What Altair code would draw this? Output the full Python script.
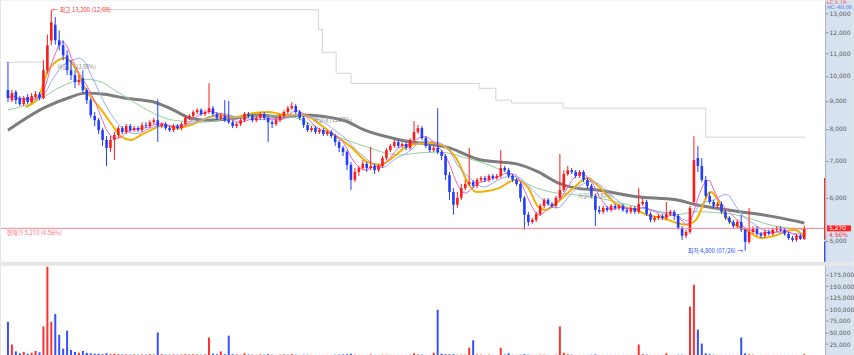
import altair as alt
import pandas as pd

# ---------------- data ----------------
opens = [9420, 9030, 9340, 9110, 8880, 9150, 8960, 9150, 9260, 9110,
         10240, 11600, 12400, 11610, 11370, 10900, 10240, 10030, 9740, 9900,
         9420, 9030, 8450, 8300, 7960, 7640, 7390, 7640, 7800, 8030,
         7900, 8100, 7960, 8030, 7960, 8130, 8100, 8230, 8300, 8100,
         8170, 8030, 7960, 8100, 8030, 8170, 8380, 8450, 8590, 8660,
         8520, 8590, 8730, 8520, 8380, 8450, 8300, 8230, 8100, 8170,
         8300, 8520, 8450, 8300, 8380, 8520, 8380, 8230, 8170, 8300,
         8450, 8590, 8730, 8810, 8590, 8380, 8130, 7960, 8030, 7900,
         7960, 7830, 7900, 7770, 7570, 7390, 7260, 6880, 6460, 6680,
         6790, 6910, 6790, 6850, 6730, 6850, 7080, 7320, 7450, 7570,
         7450, 7510, 7390, 7640, 7900, 8030, 7700, 7450, 7320, 7390,
         7260, 7140, 6590, 6140, 5820, 5990, 6240, 6350, 6400, 6300,
         6460, 6510, 6460, 6570, 6510, 6570, 6790, 6730, 6570, 6460,
         6350, 5990, 5580, 5410, 5460, 5600, 5790, 5940, 5840, 5790,
         5990, 6190, 6620, 6730, 6680, 6570, 6680, 6460, 6300, 6040,
         5690, 5650, 5740, 5690, 5790, 5740, 5790, 5690, 5650, 5740,
         5650, 5840, 5890, 5600, 5460, 5510, 5550, 5510, 5600, 5650,
         5550, 5280, 5110, 5190, 5890, 7080, 6850, 6460, 6040, 5890,
         5790, 5840, 5650, 5510, 5410, 5320, 5410, 5240, 4980, 5190,
         5280, 5150, 5110, 5190, 5150, 5240, 5280, 5240, 5150, 5060,
         5020, 5110, 5040]
highs = [10600, 9420, 9420, 9190, 9190, 9260, 9300, 9380, 9340, 10680,
         11900, 13200, 12800, 12100, 11610, 11130, 10680, 10240, 10030, 10240,
         9500, 9110, 8590, 8380, 8030, 7770, 7770, 7900, 8100, 8100,
         8170, 8170, 8100, 8100, 8230, 8230, 8300, 8380, 9060, 8230,
         8230, 8100, 8170, 8170, 8230, 8450, 8520, 8660, 8730, 8730,
         8660, 9700, 8810, 8590, 8520, 9030, 9000, 8300, 8230, 8380,
         8590, 8590, 8520, 8450, 8590, 8590, 8450, 8300, 8380, 8520,
         8660, 8810, 8960, 8880, 8660, 8450, 8230, 8100, 8100, 8030,
         8030, 7960, 7960, 7830, 7640, 7450, 7320, 6960, 6790, 6850,
         7020, 6960, 7420, 6910, 6910, 7140, 7390, 7510, 7640, 7640,
         7570, 7570, 7700, 8270, 8130, 8100, 7770, 7510, 7450, 8730,
         7320, 7200, 6680, 6240, 6140, 6350, 6460, 7390, 6460, 6510,
         6570, 6570, 6620, 6620, 6620, 7320, 6850, 6790, 6620, 6510,
         6400, 6040, 5650, 5510, 5650, 5840, 5990, 5990, 5890, 6040,
         7200, 6730, 6850, 6790, 6730, 6730, 6730, 6510, 6350, 6090,
         5790, 5790, 5790, 5840, 5840, 5840, 5840, 5740, 5790, 5790,
         6240, 5990, 5940, 5650, 5550, 5600, 5600, 5890, 5690, 5690,
         5600, 5320, 5240, 5790, 7760, 7450, 7080, 6570, 6140, 5940,
         5890, 5890, 5690, 5550, 5460, 5460, 5580, 5280, 5740, 5320,
         5320, 5190, 5240, 5240, 5280, 5320, 5320, 5280, 5190, 5110,
         5150, 5150, 5330]
lows = [8960, 8960, 8880, 8810, 8810, 8880, 8920, 9110, 9030, 9070,
        10100, 11370, 11400, 11130, 10680, 10030, 9820, 9500, 9600, 9300,
        8880, 8380, 8100, 7830, 7450, 6850, 7260, 7020, 7700, 7830,
        7830, 7900, 7900, 7900, 7900, 8030, 8030, 8170, 7580, 8030,
        7960, 7900, 7900, 7960, 7960, 8130, 8300, 8380, 8520, 8450,
        8450, 8520, 8450, 8300, 8300, 8230, 8170, 8030, 8030, 8100,
        8230, 8380, 8230, 8230, 8300, 8300, 7570, 8030, 8100, 8230,
        8380, 8520, 8660, 8520, 8300, 8030, 7900, 7900, 7830, 7830,
        7770, 7770, 7700, 7450, 7260, 7140, 6730, 6190, 6400, 6570,
        6730, 6680, 6730, 6620, 6680, 6790, 7020, 7260, 7390, 7390,
        7390, 7320, 7320, 7570, 7830, 7640, 7390, 7260, 7260, 7200,
        7020, 6460, 5940, 5580, 5740, 5940, 6190, 6300, 6240, 6240,
        6400, 6400, 6400, 6460, 6460, 6510, 6680, 6510, 6400, 6300,
        5890, 5240, 5320, 5370, 5410, 5550, 5740, 5790, 5740, 5740,
        5940, 6140, 6570, 6620, 6510, 6510, 6400, 6240, 5990, 5320,
        5600, 5600, 5650, 5650, 5690, 5690, 5650, 5600, 5600, 5600,
        5600, 5790, 5550, 5410, 5410, 5460, 5460, 5460, 5550, 5460,
        5240, 5020, 5060, 5150, 5840, 6680, 6400, 5990, 5840, 5740,
        5740, 5600, 5460, 5370, 5280, 5280, 5190, 4800, 4940, 5150,
        5110, 5060, 5060, 5110, 5110, 5190, 5190, 5110, 5020, 4980,
        4980, 5020, 5020]
closes = [9110, 9300, 9030, 8880, 9110, 8960, 9190, 9260, 9110, 10240,
          11370, 12520, 11610, 11370, 10900, 10240, 10030, 9740, 9820, 9420,
          9030, 8480, 8300, 7960, 7640, 7390, 7640, 7800, 8030, 7900,
          8100, 7960, 8030, 7960, 8130, 8100, 8230, 8300, 8100, 8170,
          8030, 7960, 8100, 8030, 8170, 8380, 8450, 8590, 8660, 8520,
          8590, 8730, 8520, 8380, 8450, 8300, 8230, 8100, 8170, 8300,
          8520, 8450, 8300, 8380, 8520, 8380, 8230, 8170, 8300, 8450,
          8590, 8730, 8810, 8590, 8380, 8130, 7960, 8030, 7900, 7960,
          7830, 7900, 7770, 7570, 7390, 7260, 6880, 6460, 6680, 6790,
          6910, 6790, 6850, 6730, 6850, 7080, 7320, 7450, 7570, 7450,
          7510, 7390, 7640, 7900, 8030, 7700, 7450, 7320, 7390, 7260,
          7140, 6590, 6140, 5820, 5990, 6240, 6350, 6400, 6300, 6460,
          6510, 6460, 6570, 6510, 6570, 6790, 6730, 6570, 6460, 6350,
          5990, 5580, 5410, 5460, 5600, 5790, 5940, 5840, 5790, 5990,
          6190, 6620, 6730, 6680, 6570, 6680, 6460, 6300, 6040, 5690,
          5650, 5740, 5690, 5790, 5740, 5790, 5690, 5650, 5740, 5650,
          5840, 5890, 5600, 5460, 5510, 5550, 5510, 5600, 5650, 5550,
          5280, 5110, 5190, 5740, 7020, 6850, 6460, 6040, 5890, 5790,
          5840, 5650, 5510, 5410, 5320, 5410, 5240, 4980, 5190, 5280,
          5150, 5110, 5190, 5150, 5240, 5280, 5240, 5150, 5060, 5020,
          5110, 5040, 5270]
volumes = [73000, 24000, 9000, 5000, 8000, 4000, 6000, 10000, 7000, 63000,
           192000, 73000, 90000, 45000, 15000, 54000, 12000, 8000, 6000, 10000,
           6000, 5000, 4000, 4000, 3000, 5000, 3000, 4000, 3000, 2500,
           2500, 2000, 2500, 2000, 2500, 2000, 3000, 2500, 50000, 3000,
           2000, 2000, 2500, 2000, 2500, 3000, 2500, 3000, 2500, 2000,
           2500, 39000, 4000, 3000, 9000, 3000, 43000, 3000, 2500, 2000,
           5000, 2500, 2000, 2000, 2500, 2000, 3000, 2000, 1500, 2000,
           2500, 2000, 3000, 2000, 1500, 2000, 2000, 1500, 1500, 1500,
           1500, 1500, 1500, 2000, 2000, 2500, 3000, 4000, 2000, 1500,
           1500, 1500, 2500, 1500, 1500, 2000, 2000, 1500, 1500, 1500,
           1500, 1500, 2000, 5000, 2500, 2000, 1500, 1500, 6000, 99000,
           4000, 3000, 3000, 3000, 2000, 2000, 2000, 17000, 33000, 2500,
           2000, 1500, 2000, 1500, 1500, 17000, 2500, 5000, 2000, 1500,
           2000, 3000, 2000, 1500, 1500, 2000, 2000, 1500, 1500, 2000,
           63000, 6000, 3000, 2000, 1500, 1500, 1500, 1500, 2000, 2500,
           1500, 1500, 1500, 1500, 1500, 1500, 1500, 1500, 1500, 1500,
           24000, 3000, 2000, 1500, 1500, 1500, 1500, 5000, 1500, 1500,
           2000, 2000, 1500, 106000, 153000, 56000, 26000, 5000, 3000, 2000,
           1500, 1500, 1500, 1500, 1500, 1500, 39000, 5000, 3000, 2000,
           1500, 1500, 1500, 1500, 1500, 1500, 1500, 1500, 1500, 1500,
           1500, 1500, 3000]

# moving averages (candle index, price)
ma20_i = [4.5, 7.75, 10.25, 14.5, 17, 19.5, 23.75, 27, 28.75, 31.25,
          33.75, 36.25, 39.5, 42.75, 46.25, 51.25, 53.75, 57.75, 62, 66.25,
          70.25, 74.5, 82, 87, 91.25, 94.5, 97.75, 102, 107.75, 111.25,
          114.5, 116.25, 118.75, 124.5, 128.75, 132, 134.5, 136.25, 139.5, 143.75,
          147, 149.5, 154.5, 159.5, 162, 165.75, 172, 174.5, 178.25, 182.75,
          187, 191.25, 194.5, 199.5, 202]
ma20_v = [8770, 9150, 10240, 10780, 10360, 9500, 8660, 8030, 7740, 7640,
          7800, 7960, 8130, 8030, 8130, 8410, 8480, 8410, 8550, 8590,
          8480, 8480, 7870, 7420, 6960, 6880, 7110, 7480, 7540, 7390,
          6910, 6460, 6140, 6240, 6460, 6240, 5770, 5690, 5890, 6270,
          6510, 6320, 5820, 5690, 5580, 5510, 5350, 5460, 6140, 5460,
          5240, 5060, 5110, 5240, 5090]
ma60_i = [0, 7.75, 12.75, 16.25, 19.5, 23.75, 27, 29.5, 34.5, 42, 49.5, 57, 64.5,
          72, 79.5, 89.5, 99.5, 103.75, 109.5, 116.25, 121.25, 127.75, 132.75,
          137.75, 143.75, 149.5, 159.5, 169.5, 174.5, 184.5, 194.5, 202]
ma60_v = [8660, 9030, 9500, 9740, 9860, 9740, 9420, 9190, 8730, 8300, 8230, 8380, 8450,
          8410, 7960, 7480, 7170, 7230, 7260, 7080, 6910, 6590, 6300,
          6140, 6070, 5990, 5770, 5580, 5650, 5580, 5320, 5240]
ma120_i = [0, 9.5, 16, 19.5, 24.5, 29.5, 37, 43, 46, 51, 58, 63, 70, 74.5, 85,
           90.5, 99.5, 112, 120, 129, 134.5, 139.5, 144, 149.5, 159.5, 169.5,
           174.5, 184.5, 194.5, 202]
ma120_v = [7960, 8770, 9150, 9300, 9260, 9110, 8960, 8590, 8380, 8300, 8380, 8480,
           8410, 8480, 8300, 7960, 7640, 7390, 7020, 6910, 6680, 6380, 6240, 6190,
           6020, 5940, 5820, 5670, 5530, 5390]

# stepped trailing-high line
step_i = [-0.5, 9, 23.5, 78.75, 79.75, 83.25, 87, 119.5, 123.75, 127.75, 140.75, 177, 202.25]
step_v = [10590, 10590, 13200, 12160, 11040, 10110, 9690, 9490, 9030, 8920, 8730, 7730, 7730]
step_seg = ["a", "a", "b", "b", "b", "b", "b", "b", "b", "b", "b", "b", "b"]

price_ticks = [5000, 6000, 7000, 8000, 9000, 10000, 11000, 12000, 13000]
vol_ticks = [25000, 50000, 75000, 100000, 125000, 150000, 175000]

note_i = [12.5, 77.5, 144.5]
note_p = [10380, 8300, 6040]
note_t = ["저항대 (13.88%)", "저항대 (11.52%)", "저항대 (9.80%)"]

# ---------------- build ----------------
N = len(closes)
assert all(len(a) == N for a in (opens, highs, lows, volumes)), [len(a) for a in (opens, highs, lows, closes, volumes)]
assert len(ma20_i) == len(ma20_v) and len(ma60_i) == len(ma60_v) and len(ma120_i) == len(ma120_v)

df = pd.DataFrame({"i": list(range(N)), "open": opens, "high": highs,
                   "low": lows, "close": closes, "vol": volumes})
df["dir"] = ["up" if c >= o else "down" for o, c in zip(opens, closes)]

W, H1, H2 = 826, 262, 90
TOTAL_W = 854
UP, DOWN = "#ff1a1a", "#1f3cff"
AXBG = "#d6e2ef"
FONT = "DejaVu Sans"
KFONT = "Noto Sans CJK KR"

xs = alt.Scale(domain=[-0.5, 206], nice=False, zero=False)
ys = alt.Scale(type="log", domain=[4579, 13728], nice=False)
vs = alt.Scale(domain=[0, 194000], nice=False, zero=True)
col = alt.Scale(domain=["up", "down"], range=[UP, DOWN])
X = alt.X("i:Q", scale=xs, axis=None, title=None)

LABEL_EXPR = "replace(format(datum.value, ','), '', '')"
price_axis = alt.Axis(orient="right", values=price_ticks, labelExpr="format(datum.value, ',')",
                      title=None, grid=False,
                      labelFontSize=6, labelColor="#5a5a5a", labelFont=FONT, tickSize=3,
                      tickColor="#8a96a3", domainColor="#aab6c3", zindex=1, labelPadding=1)
vol_axis = alt.Axis(orient="right", values=vol_ticks, labelExpr="format(datum.value, ',')",
                    title=None, grid=False,
                    labelFontSize=6, labelColor="#5a5a5a", labelFont=FONT, tickSize=3,
                    tickColor="#8a96a3", domainColor="#aab6c3", zindex=1, labelPadding=1)


def PY(field):
    return alt.Y(field, scale=ys, axis=price_axis, title=None)


def VY(field):
    return alt.Y(field, scale=vs, axis=vol_axis, title=None, stack=None)


one = pd.DataFrame({"k": [0]})
color_enc = alt.Color("dir:N", scale=col, legend=None)

bg1 = alt.Chart(one).mark_rect(color=AXBG).encode(
    x=alt.value(W), x2=alt.value(TOTAL_W), y=alt.value(0), y2=alt.value(H1))

step_df = pd.DataFrame({"i": step_i, "p": step_v, "seg": step_seg})
step = alt.Chart(step_df).mark_line(interpolate="step-after", color="#d4d4d4", strokeWidth=1).encode(
    x=X, y=PY("p:Q"), detail="seg:N")

ma120 = alt.Chart(pd.DataFrame({"i": ma120_i, "p": ma120_v})).mark_line(
    interpolate="monotone", color="#7d7d7d", strokeWidth=3).encode(x=X, y=PY("p:Q"))
ma60 = alt.Chart(pd.DataFrame({"i": ma60_i, "p": ma60_v})).mark_line(
    interpolate="monotone", color="#8fd19a", strokeWidth=1).encode(x=X, y=PY("p:Q"))
ma20 = alt.Chart(pd.DataFrame({"i": ma20_i, "p": ma20_v})).mark_line(
    interpolate="monotone", color="#f4b000", strokeWidth=2).encode(x=X, y=PY("p:Q"))

base = alt.Chart(df)
ma10 = base.transform_window(ma10="mean(close)", frame=[-9, 0], sort=[alt.SortField("i")]).mark_line(
    color="#9aa8ff", strokeWidth=1).encode(x=X, y=PY("ma10:Q"))
ma5 = base.transform_window(ma5="mean(close)", frame=[-4, 0], sort=[alt.SortField("i")]).mark_line(
    color="#f062c8", strokeWidth=1).encode(x=X, y=PY("ma5:Q"))

wick = base.mark_rule(strokeWidth=1).encode(x=X, y=PY("low:Q"), y2="high:Q", color=color_enc)
body = base.mark_bar(size=2.6).encode(x=X, y=PY("open:Q"), y2="close:Q", color=color_enc)

cur = alt.Chart(pd.DataFrame({"p": [5270], "x0": [-0.3]}))
cur_line = cur.mark_rule(color="#ff8090", strokeWidth=1).encode(y=PY("p:Q"))
cur_lbl = cur.mark_text(text="현재가 5,270 (4.56%)", font=KFONT, fontSize=6, color="#ff6f86",
                        align="left", baseline="top", dy=2).encode(
    x=alt.X("x0:Q", scale=xs, axis=None), y=PY("p:Q"))

hi = alt.Chart(pd.DataFrame({"i": [11], "p": [13200]})).mark_text(
    text="← 최고 13,200 (12/09)", font=KFONT, fontSize=6, color="#ff3030", align="left",
    baseline="middle", dx=1).encode(x=X, y=PY("p:Q"))
lo = alt.Chart(pd.DataFrame({"i": [187], "p": [4800]})).mark_text(
    text="최저 4,800 (07/26) →", font=KFONT, fontSize=6, color="#2a4dff", align="right",
    baseline="middle", dx=-2).encode(x=X, y=PY("p:Q"))
notes = alt.Chart(pd.DataFrame({"i": note_i, "p": note_p, "t": note_t})).mark_text(
    font=KFONT, fontSize=5.5, color="#8a8a8a", align="left", baseline="middle").encode(
    x=X, y=PY("p:Q"), text="t:N")

# right-axis decorations
rng = alt.Chart(pd.DataFrame({"a": [6510, 4990], "b": [5020, 4579], "c": ["r", "b"]})).mark_rule(
    strokeWidth=2).encode(x=alt.value(W), y=PY("a:Q"), y2="b:Q",
                          color=alt.Color("c:N", scale=alt.Scale(domain=["r", "b"], range=["#ff3030", "#3a78e0"]), legend=None))
tag = alt.Chart(pd.DataFrame({"a": [5335], "b": [5205]})).mark_rect(color="#ff2020").encode(
    x=alt.value(W + 2), x2=alt.value(TOTAL_W - 2), y=PY("a:Q"), y2="b:Q")
tag_txt = cur.mark_text(text="5,270", font=FONT, fontSize=6, color="white", align="left",
                        baseline="middle").encode(x=alt.value(W + 4), y=PY("p:Q"))
pct_txt = alt.Chart(pd.DataFrame({"p": [5130]})).mark_text(
    text="4.56%", font=FONT, fontSize=6, color="#ff3030", align="left", baseline="middle").encode(
    x=alt.value(W + 4), y=PY("p:Q"))
lc = alt.Chart(one).mark_text(text="LC:5.79", font=FONT, fontSize=5, color="#ff4040",
                              align="left", baseline="middle").encode(x=alt.value(W + 2), y=alt.value(2))
hc = alt.Chart(one).mark_text(text="HC:-60.00", font=FONT, fontSize=5, color="#3d6df0",
                              align="left", baseline="middle").encode(x=alt.value(W + 2), y=alt.value(7))

price = alt.layer(bg1, step, ma120, ma60, ma20, ma10, ma5, wick, body, cur_line, cur_lbl,
                  hi, lo, notes, rng, tag, tag_txt, pct_txt, lc, hc).properties(width=W, height=H1)

bg2 = alt.Chart(one).mark_rect(color=AXBG).encode(
    x=alt.value(W), x2=alt.value(TOTAL_W), y=alt.value(0), y2=alt.value(H2))
vbars = base.mark_bar(size=2, opacity=0.9).encode(x=X, y=VY("vol:Q"), color=color_enc)
vol = alt.layer(bg2, vbars).properties(width=W, height=H2)

chart = alt.vconcat(price, vol, spacing=3).properties(
    background="#e6e6e6", padding=0
).configure_view(stroke=None, fill="white")

chart.save("out.html", embed_options={"renderer": "svg", "actions": False})
